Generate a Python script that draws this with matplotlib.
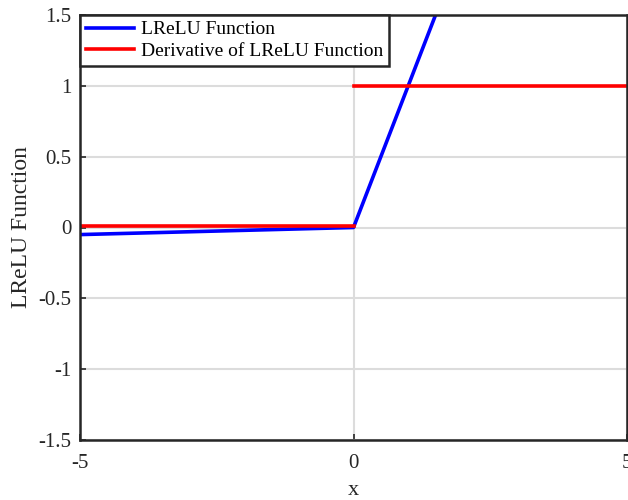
import numpy as np
import matplotlib.pyplot as plt

plt.rcParams['font.family'] = ['Liberation Serif', 'DejaVu Serif']

x_neg = [-5, 0]
lrelu_neg = [-0.05, 0]
x_pos = [0, 5]
lrelu_pos = [0, 5]
deriv_neg = [0.01, 0.01]
deriv_pos = [1, 1]

xticks = [-5, 0, 5]
xticklabels = ['-5', '0', '5']
yticks = [-1.5, -1, -0.5, 0, 0.5, 1, 1.5]
yticklabels = ['-1.5', '-1', '-0.5', '0', '0.5', '1', '1.5']

fig = plt.figure(figsize=(6.28, 5.0), dpi=100)
ax = fig.add_axes([80/628, 60/500, 547/628, 425/500])

ax.plot(x_neg + x_pos[1:], lrelu_neg + lrelu_pos[1:], color='#0000ff', lw=2.6,
        label='LReLU Function')
ax.plot(x_neg, deriv_neg, color='#ff0000', lw=2.6,
        label='Derivative of LReLU Function')
ax.plot(x_pos, deriv_pos, color='#ff0000', lw=2.6)

ax.set_xlim(-5, 5)
ax.set_ylim(-1.5, 1.5)
ax.set_xticks(xticks)
ax.set_xticklabels(xticklabels)
ax.set_yticks(yticks)
ax.set_yticklabels(yticklabels)
ax.grid(True, color='#dcdcdc', lw=1.5)
ax.set_axisbelow(True)

for s in ax.spines.values():
    s.set_linewidth(1.8)
    s.set_color('#262626')
ax.tick_params(direction='in', length=4, width=1.2, labelsize=15,
               colors='#262626', top=False, right=False)
ax.tick_params(axis='x', pad=10)
ax.tick_params(axis='y', pad=6)
ax.set_xlabel('x', fontsize=16, color='#262626', labelpad=6)
ax.set_ylabel('LReLU Function', fontsize=17, color='#262626', labelpad=5)

leg = ax.legend(loc='upper left', fontsize=14, fancybox=False, framealpha=1,
                edgecolor='#262626', borderaxespad=0, handlelength=2.5,
                borderpad=0.3, labelspacing=0.2, handletextpad=0.35)
leg.get_frame().set_linewidth(1.8)

fig.savefig('out.png', dpi=100)
